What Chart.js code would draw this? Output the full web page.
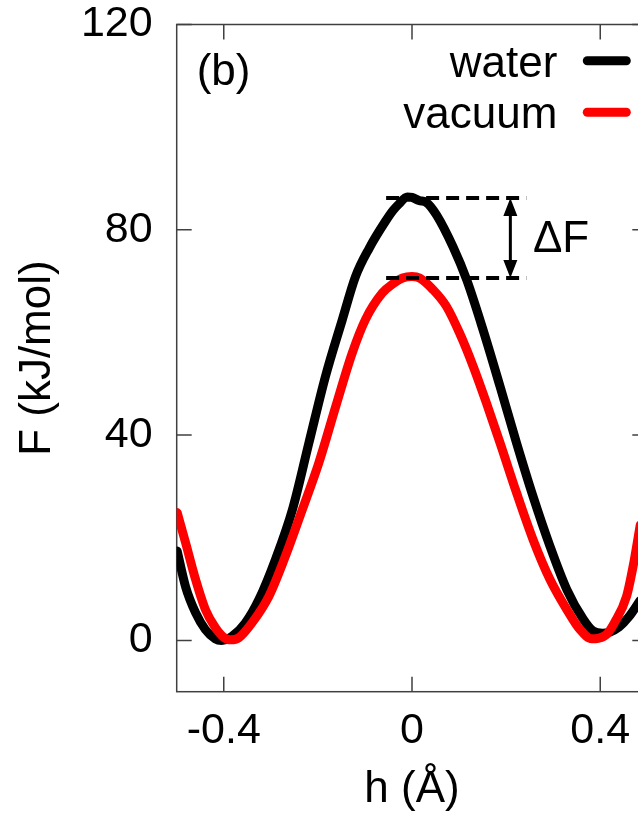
<!DOCTYPE html>
<html>
<head>
<meta charset="utf-8">
<script src="https://cdn.jsdelivr.net/npm/chart.js@4.4.1/dist/chart.umd.min.js"></script>
<style>
html, body { margin: 0; padding: 0; background: #fff; overflow: hidden; }
#wrap { width: 680px; height: 817px; position: relative; }
</style>
</head>
<body>
<div id="wrap"><canvas id="myChart"></canvas></div>
<script>
// water curve (black)
const hWater = [-0.499, -0.481, -0.460, -0.439, -0.418, -0.405, -0.382, -0.354, -0.325, -0.290,
                -0.254, -0.219, -0.184, -0.148, -0.120, -0.091, -0.056, -0.040, -0.028, -0.010,
                0.000, 0.015, 0.031, 0.052, 0.087, 0.116, 0.151, 0.187, 0.222, 0.257,
                0.293, 0.329, 0.364, 0.385, 0.405, 0.420, 0.440, 0.460, 0.485];
const fWater = [17.4, 10.4, 5.4, 2.1, 0.3, 0.0, 0.8, 3.4, 8.0, 15.8,
                25.5, 38.5, 51.4, 62.5, 70.9, 76.4, 81.7, 83.8, 85.0, 86.4,
                86.3, 85.7, 85.3, 82.9, 76.7, 70.3, 60.5, 49.5, 38.5, 28.1,
                18.4, 9.9, 4.1, 1.8, 1.4, 1.6, 2.6, 4.5, 7.8];

// vacuum curve (red)
const hVacuum = [-0.499, -0.481, -0.460, -0.439, -0.418, -0.400, -0.385, -0.368, -0.340, -0.304,
                 -0.269, -0.233, -0.198, -0.162, -0.127, -0.099, -0.063, -0.040, -0.020, 0.000,
                 0.016, 0.045, 0.073, 0.101, 0.130, 0.158, 0.187, 0.222, 0.257, 0.293,
                 0.329, 0.357, 0.382, 0.395, 0.414, 0.430, 0.456, 0.470, 0.485];
const fVacuum = [24.9, 19.0, 11.9, 6.0, 2.5, 0.6, 0.1, 0.5, 3.4, 8.6,
                 16.4, 25.5, 34.6, 45.6, 56.0, 62.5, 67.7, 69.5, 70.6, 70.9,
                 70.6, 68.3, 65.1, 59.9, 53.4, 46.3, 38.5, 28.8, 19.7, 11.9,
                 6.0, 2.1, 0.3, 0.4, 1.2, 3.4, 8.6, 14.5, 22.5];

const xTicks = [-0.4, 0, 0.4];
const yTicks = [0, 40, 80, 120];

// barrier marks: dashed levels, arrow and its label
const barrierTop = 86.2;
const barrierBottom = 70.6;
const dashRange = [-0.055, 0.243];
const arrowAt = 0.209;
const deltaLabelAt = [0.257, 75.7];

const FONT = '"Liberation Sans", Arial, sans-serif';

const toPoints = (xs, ys) => xs.map((x, i) => ({ x: x, y: ys[i] }));

const frame = {
    id: 'frame',
    beforeDatasetsDraw(chart) {
        const { ctx, chartArea: a, scales } = chart;
        ctx.save();
        ctx.strokeStyle = '#404040';
        ctx.lineWidth = 1.5;
        ctx.strokeRect(a.left, a.top, a.right - a.left, a.bottom - a.top);
        ctx.beginPath();
        xTicks.forEach(v => {
            const px = scales.x.getPixelForValue(v);
            ctx.moveTo(px, a.bottom); ctx.lineTo(px, a.bottom - 15);
            ctx.moveTo(px, a.top); ctx.lineTo(px, a.top + 15);
        });
        yTicks.forEach(v => {
            const py = scales.y.getPixelForValue(v);
            ctx.moveTo(a.left, py); ctx.lineTo(a.left + 15, py);
            ctx.moveTo(a.right, py); ctx.lineTo(a.right - 15, py);
        });
        ctx.stroke();
        ctx.restore();
    }
};

const overlay = {
    id: 'overlay',
    afterDatasetsDraw(chart) {
        const { ctx, chartArea: a, scales } = chart;
        const x = scales.x, y = scales.y;
        ctx.save();
        ctx.strokeStyle = '#000';
        ctx.fillStyle = '#000';

        // double arrow
        const ax = x.getPixelForValue(arrowAt);
        const y1 = y.getPixelForValue(barrierTop);
        const y2 = y.getPixelForValue(barrierBottom);
        ctx.lineWidth = 3;
        ctx.beginPath();
        ctx.moveTo(ax, y1 + 12);
        ctx.lineTo(ax, y2 - 12);
        ctx.stroke();
        ctx.beginPath();
        ctx.moveTo(ax, y1); ctx.lineTo(ax - 7, y1 + 18); ctx.lineTo(ax + 7, y1 + 18); ctx.closePath();
        ctx.moveTo(ax, y2); ctx.lineTo(ax - 7, y2 - 18); ctx.lineTo(ax + 7, y2 - 18); ctx.closePath();
        ctx.fill();

        ctx.font = '44px ' + FONT;
        ctx.textBaseline = 'alphabetic';
        ctx.textAlign = 'left';
        ctx.fillText('ΔF', x.getPixelForValue(deltaLabelAt[0]), y.getPixelForValue(deltaLabelAt[1]));
        ctx.fillText('(b)', a.left + 20, a.top + 60.5);

        // legend
        ctx.textAlign = 'right';
        ctx.lineCap = 'round';
        ctx.lineWidth = 9;
        chart.data.datasets.slice(0, 2).forEach((ds, i) => {
            const base = a.top + 52.2 + i * 51.6;
            ctx.fillText(ds.label, a.right - 90, base);
            ctx.strokeStyle = ds.borderColor;
            ctx.beginPath();
            ctx.moveTo(a.right - 60, base - 16);
            ctx.lineTo(a.right - 21, base - 16);
            ctx.stroke();
        });
        ctx.restore();
    }
};

const tickFont = { family: FONT, size: 43, lineHeight: 1 };
const titleFont = { family: FONT, size: 44 };

const noPad = s => { s.paddingTop = 0; s.paddingBottom = 0; s.paddingLeft = 0; s.paddingRight = 0; };

const config = {
    type: 'line',
    data: {
        datasets: [
            {
                label: 'water',
                data: toPoints(hWater, fWater),
                borderColor: '#000000',
                borderWidth: 9,
                pointRadius: 0,
                cubicInterpolationMode: 'monotone',
                borderCapStyle: 'round',
                borderJoinStyle: 'round',
                order: 3
            },
            {
                label: 'vacuum',
                data: toPoints(hVacuum, fVacuum),
                borderColor: '#ff0000',
                borderWidth: 9,
                pointRadius: 0,
                cubicInterpolationMode: 'monotone',
                borderCapStyle: 'round',
                borderJoinStyle: 'round',
                order: 2
            },
            {
                label: 'top',
                data: toPoints(dashRange, [barrierTop, barrierTop]),
                borderColor: '#000000',
                borderWidth: 4,
                borderDash: [13, 7],
                pointRadius: 0,
                order: 1
            },
            {
                label: 'bottom',
                data: toPoints(dashRange, [barrierBottom, barrierBottom]),
                borderColor: '#000000',
                borderWidth: 4,
                borderDash: [13, 7],
                pointRadius: 0,
                order: 1
            }
        ]
    },
    options: {
        responsive: true,
        maintainAspectRatio: false,
        animation: false,
        layout: { padding: { left: 0, right: 32.7, top: 24.5, bottom: 0 } },
        plugins: {
            legend: { display: false },
            tooltip: { enabled: false }
        },
        scales: {
            x: {
                type: 'linear',
                min: -0.5,
                max: 0.5,
                afterBuildTicks: s => { s.ticks = xTicks.map(v => ({ value: v })); },
                afterFit: s => { s.height = 125.3; noPad(s); },
                grid: { display: false },
                border: { display: false },
                ticks: { font: tickFont, color: '#000', padding: 10, maxRotation: 0, callback: v => String(v) },
                title: { display: true, text: 'h (Å)', font: titleFont, color: '#000', padding: { top: 0, bottom: 1 } }
            },
            y: {
                type: 'linear',
                min: -10,
                max: 120,
                afterBuildTicks: s => { s.ticks = yTicks.map(v => ({ value: v })); },
                afterFit: s => { s.width = 176.7; noPad(s); },
                grid: { display: false },
                border: { display: false },
                ticks: { font: tickFont, color: '#000', padding: 16, callback: v => String(v) },
                title: { display: true, text: 'F (kJ/mol)', font: titleFont, color: '#000', padding: { top: 11, bottom: 0 } }
            }
        }
    },
    plugins: [frame, overlay]
};

const myChart = new Chart(document.getElementById('myChart'), config);
</script>
</body>
</html>
